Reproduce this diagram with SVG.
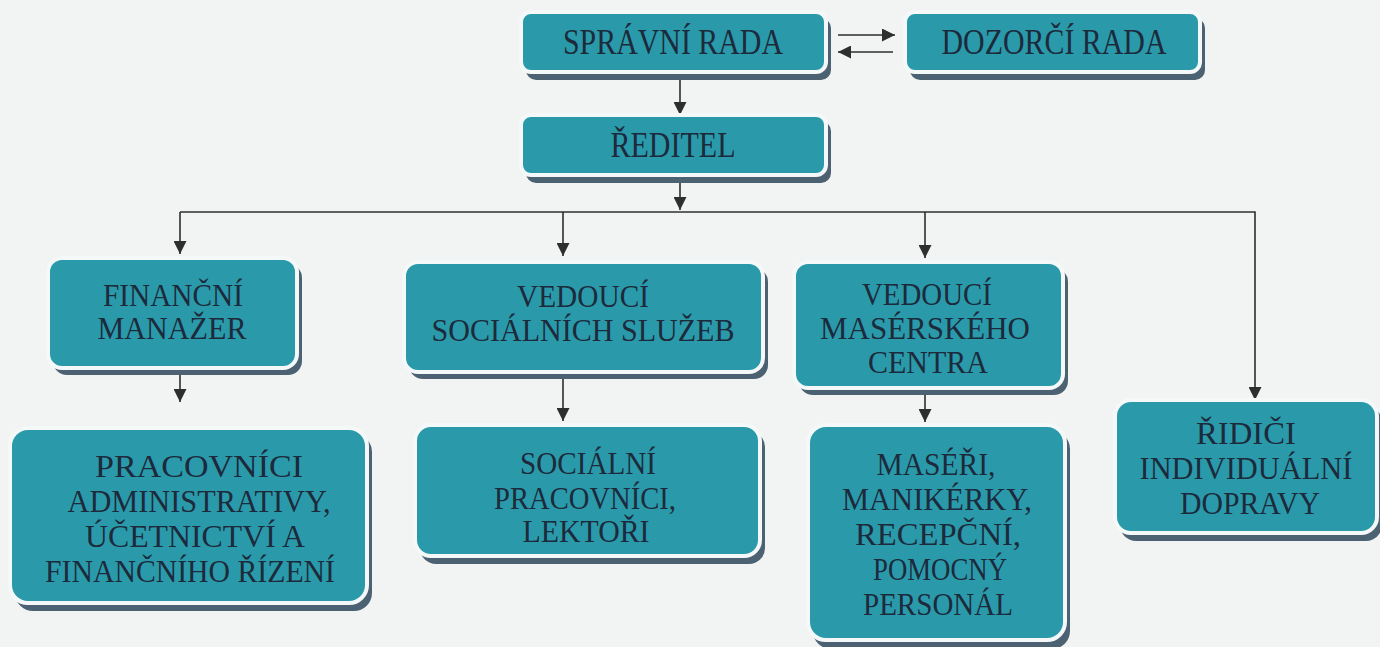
<svg xmlns="http://www.w3.org/2000/svg" width="1380" height="647" viewBox="0 0 1380 647">
<defs>
<marker id="ah" viewBox="0 0 12 12" refX="12" refY="6" markerWidth="13" markerHeight="13" markerUnits="userSpaceOnUse" orient="auto">
<path d="M0,0 L12,6 L0,12 z" fill="#2e2e2e"/>
</marker>
<style>
.sh{fill:#4c6273;}
.bx{fill:#2a9aaa;stroke:#f4f8f8;stroke-width:4;}
.t{font-family:"Liberation Serif","Times New Roman",serif;font-size:31px;fill:#1c2a3c;text-anchor:middle;}
.tt{font-family:"Liberation Serif","Times New Roman",serif;font-size:35px;fill:#1c2a3c;text-anchor:middle;}
.c{stroke:#2e2e2e;stroke-width:1.6;fill:none;}
</style>
</defs>
<rect width="1380" height="647" fill="#f2f4f4"/>
<g id="connectors">
<path class="c" d="M838,35 H895" marker-end="url(#ah)"/>
<path class="c" d="M893,52 H838" marker-end="url(#ah)"/>
<path class="c" d="M680,72 V115" marker-end="url(#ah)"/>
<path class="c" d="M680,175 V210"  marker-end="url(#ah)"/>
<path class="c" d="M180,212 H1255 V400" marker-end="url(#ah)"/>
<path class="c" d="M180,212 V254" marker-end="url(#ah)"/>
<path class="c" d="M563,212 V256" marker-end="url(#ah)"/>
<path class="c" d="M925,212 V258" marker-end="url(#ah)"/>
<path class="c" d="M180,368 V402" marker-end="url(#ah)"/>
<path class="c" d="M563,374 V421" marker-end="url(#ah)"/>
<path class="c" d="M925,390 V422" marker-end="url(#ah)"/>
</g>
<g id="spravni">
<rect class="sh" x="526" y="18" width="305" height="62" rx="10"/>
<rect class="bx" x="521" y="12" width="305" height="60" rx="10"/>
<text class="tt" x="673" y="54" textLength="220" lengthAdjust="spacingAndGlyphs">SPRÁVNÍ RADA</text>
</g>
<g id="dozorci">
<rect class="sh" x="910" y="18" width="295" height="62" rx="10"/>
<rect class="bx" x="905" y="12" width="295" height="60" rx="10"/>
<text class="tt" x="1054" y="54" textLength="225" lengthAdjust="spacingAndGlyphs">DOZORČÍ RADA</text>
</g>
<g id="reditel">
<rect class="sh" x="526" y="121" width="305" height="62" rx="10"/>
<rect class="bx" x="521" y="115" width="305" height="60" rx="10"/>
<text class="tt" x="673" y="157" textLength="125" lengthAdjust="spacingAndGlyphs">ŘEDITEL</text>
</g>
<g id="financni">
<rect class="sh" x="53" y="264" width="249" height="111" rx="14"/>
<rect class="bx" x="48" y="258" width="249" height="110" rx="14"/>
<text class="t" x="173" y="306" textLength="140" lengthAdjust="spacingAndGlyphs">FINANČNÍ</text>
<text class="t" x="172" y="339" textLength="149" lengthAdjust="spacingAndGlyphs">MANAŽER</text>
</g>
<g id="socialni-vedouci">
<rect class="sh" x="409" y="268" width="359" height="111" rx="14"/>
<rect class="bx" x="404" y="262" width="359" height="110" rx="14"/>
<text class="t" x="583" y="307" textLength="132" lengthAdjust="spacingAndGlyphs">VEDOUCÍ</text>
<text class="t" x="583" y="341" textLength="303" lengthAdjust="spacingAndGlyphs">SOCIÁLNÍCH SLUŽEB</text>
</g>
<g id="maserske-vedouci">
<rect class="sh" x="799" y="268" width="269" height="127" rx="14"/>
<rect class="bx" x="794" y="262" width="269" height="126" rx="14"/>
<text class="t" x="927" y="305" textLength="130" lengthAdjust="spacingAndGlyphs">VEDOUCÍ</text>
<text class="t" x="925" y="339" textLength="210" lengthAdjust="spacingAndGlyphs">MASÉRSKÉHO</text>
<text class="t" x="928" y="373" textLength="120" lengthAdjust="spacingAndGlyphs">CENTRA</text>
</g>
<g id="pracovnici-admin">
<rect class="sh" x="15" y="434" width="357" height="177" rx="18"/>
<rect class="bx" x="10" y="428" width="357" height="175" rx="18"/>
<text class="t" x="199" y="477" textLength="208" lengthAdjust="spacingAndGlyphs">PRACOVNÍCI</text>
<text class="t" x="199" y="512" textLength="263" lengthAdjust="spacingAndGlyphs">ADMINISTRATIVY,</text>
<text class="t" x="195" y="547" textLength="220" lengthAdjust="spacingAndGlyphs">ÚČETNICTVÍ A</text>
<text class="t" x="190" y="582" textLength="290" lengthAdjust="spacingAndGlyphs">FINANČNÍHO ŘÍZENÍ</text>
</g>
<g id="socialni-pracovnici">
<rect class="sh" x="420" y="431" width="345" height="133" rx="16"/>
<rect class="bx" x="415" y="425" width="345" height="131" rx="16"/>
<text class="t" x="588" y="474" textLength="136" lengthAdjust="spacingAndGlyphs">SOCIÁLNÍ</text>
<text class="t" x="585" y="509" textLength="182" lengthAdjust="spacingAndGlyphs">PRACOVNÍCI,</text>
<text class="t" x="586" y="542" textLength="127" lengthAdjust="spacingAndGlyphs">LEKTOŘI</text>
</g>
<g id="maseri">
<rect class="sh" x="813" y="431" width="257" height="218" rx="18"/>
<rect class="bx" x="808" y="425" width="257" height="215" rx="18"/>
<text class="t" x="936" y="475" textLength="119" lengthAdjust="spacingAndGlyphs">MASÉŘI,</text>
<text class="t" x="937" y="510" textLength="190" lengthAdjust="spacingAndGlyphs">MANIKÉRKY,</text>
<text class="t" x="938" y="545" textLength="166" lengthAdjust="spacingAndGlyphs">RECEPČNÍ,</text>
<text class="t" x="940" y="580" textLength="134" lengthAdjust="spacingAndGlyphs">POMOCNÝ</text>
<text class="t" x="938" y="615" textLength="150" lengthAdjust="spacingAndGlyphs">PERSONÁL</text>
</g>
<g id="ridici">
<rect class="sh" x="1120" y="406" width="262" height="135" rx="16"/>
<rect class="bx" x="1115" y="400" width="262" height="133" rx="16"/>
<text class="t" x="1246" y="444" textLength="100" lengthAdjust="spacingAndGlyphs">ŘIDIČI</text>
<text class="t" x="1246" y="479" textLength="213" lengthAdjust="spacingAndGlyphs">INDIVIDUÁLNÍ</text>
<text class="t" x="1250" y="514" textLength="140" lengthAdjust="spacingAndGlyphs">DOPRAVY</text>
</g>
</svg>
